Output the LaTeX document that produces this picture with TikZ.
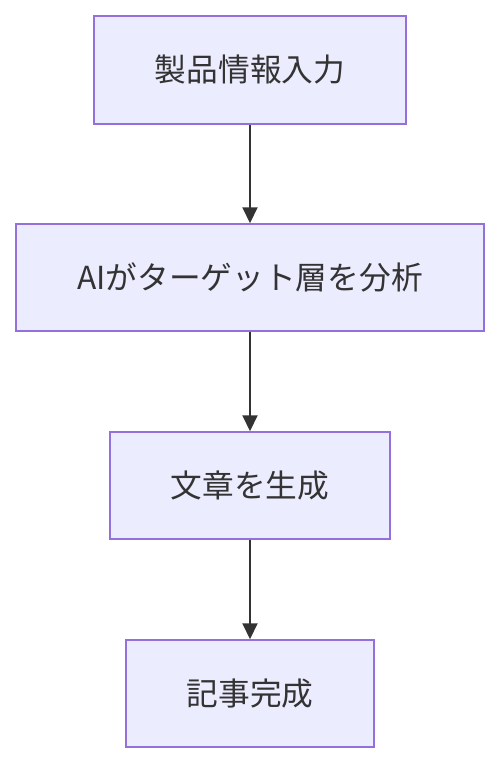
\documentclass[tikz,border=0pt]{standalone}
\usepackage{fontspec}
\setmainfont{Noto Sans CJK JP}
\usetikzlibrary{arrows.meta}
\definecolor{boxfill}{HTML}{ECECFF}
\definecolor{boxline}{HTML}{9370DB}
\definecolor{arrowc}{HTML}{333333}
\begin{document}
\begin{tikzpicture}[x=1pt,y=-1pt,
  stepbox/.style={draw=boxline,fill=boxfill,line width=1.5pt,rectangle,inner sep=0pt,
    font=\fontsize{31.7}{36}\selectfont,text=arrowc},
  flow/.style={draw=arrowc,line width=2pt,-{Triangle[length=16pt,width=15pt]}}]
\useasboundingbox (0,0) rectangle (500,764);
\node[stepbox,minimum width=312pt,minimum height=108pt] (a) at (250,70) {製品情報入力};
\node[stepbox,minimum width=468pt,minimum height=107pt] (b) at (250,277.5) {AIがターゲット層を分析};
\node[stepbox,minimum width=280pt,minimum height=107pt] (c) at (250,485.5) {文章を生成};
\node[stepbox,minimum width=248pt,minimum height=107pt] (d) at (250,693.5) {記事完成};
\draw[flow] (a.south) -- (b.north);
\draw[flow] (b.south) -- (c.north);
\draw[flow] (c.south) -- (d.north);
\end{tikzpicture}
\end{document}
